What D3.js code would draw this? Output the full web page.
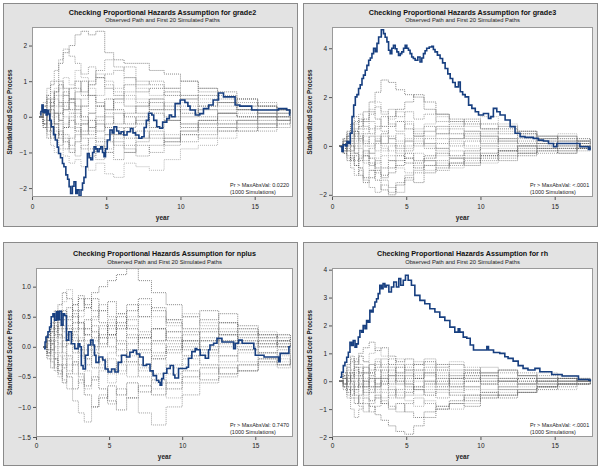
<!DOCTYPE html>
<html><head><meta charset="utf-8">
<script src="https://cdn.jsdelivr.net/npm/d3@7"></script>
<style>body{margin:0;background:#fff}svg{display:block}text{font-family:"Liberation Sans",Arial,sans-serif}</style>
</head><body><div id="c"></div>
<script>
// shared event-time grid of the simulated paths
const simTimes = [0.5,0.75,1.0,1.25,1.5,1.8,2.1,2.5,2.9,3.3,3.8,4.3,4.9,5.5,6.2,7.0,7.9,8.9,10.0,11.2,12.5,13.8,15.2,16.5,17.4];
const variables = ["grade2","grade3","nplus","rh"];
const pValues = ["0.0220","<.0001","0.7470","<.0001"];
const xTicks = [0,5,10,15];
const yTicksGrade2 = [-2,-1,0,1,2];
const yTicksGrade3 = [-2,0,2,4];
const yTicksNplus = [-1.5,-1.0,-0.5,0.0,0.5,1.0];
const yTicksRh = [-2,-1,0,1,2,3,4];

const obsGrade2 = [[0.55,0.05],[0.6,0.15],[0.67,0.33],[0.75,0.12],[0.85,0.2],[0.95,0.05],[1.05,0.18],[1.12,0.08],[1.2,-0.1],[1.3,-0.28],[1.45,-0.5],[1.57,-0.65],[1.7,-0.85],[1.79,-1.03],[1.92,-1.15],[2.05,-1.31],[2.15,-1.4],[2.28,-1.63],[2.4,-1.75],[2.5,-1.96],[2.6,-2.15],[2.72,-1.95],[2.83,-1.82],[2.95,-2.15],[3.05,-2.05],[3.17,-2.22],[3.3,-2.05],[3.4,-1.86],[3.5,-1.7],[3.62,-1.4],[3.73,-1.03],[3.85,-1.15],[3.96,-1.2],[4.08,-1.0],[4.18,-0.84],[4.3,-0.9],[4.4,-0.98],[4.52,-0.9],[4.63,-0.84],[4.75,-1.0],[4.85,-1.12],[4.95,-0.9],[5.07,-0.65],[5.25,-0.37],[5.4,-0.45],[5.52,-0.28],[5.7,-0.4],[5.85,-0.47],[6.0,-0.42],[6.18,-0.51],[6.4,-0.42],[6.63,-0.33],[6.8,-0.45],[6.97,-0.51],[7.2,-0.6],[7.4,-0.56],[7.55,-0.3],[7.7,-0.1],[7.85,0.1],[8.07,0.05],[8.2,-0.1],[8.4,-0.28],[8.6,-0.32],[8.8,-0.15],[9.08,-0.05],[9.25,0.05],[9.4,0.0],[9.64,0.37],[9.98,0.47],[10.3,0.4],[10.5,0.3],[10.65,0.19],[11.0,0.05],[11.3,0.09],[11.55,0.23],[11.9,0.33],[12.2,0.47],[12.56,0.67],[12.9,0.56],[13.45,0.56],[13.68,0.33],[14.0,0.3],[14.6,0.3],[14.8,0.19],[15.2,0.19],[16.6,0.23],[17.16,0.19],[17.35,0.05],[17.4,0.05]];
const obsGrade3 = [[0.56,-0.03],[0.67,-0.23],[0.75,0.05],[0.9,0.0],[1.01,0.18],[1.12,0.1],[1.23,0.52],[1.35,1.2],[1.46,1.67],[1.57,2.01],[1.68,2.1],[1.79,2.35],[1.9,2.5],[2.02,2.76],[2.12,2.9],[2.24,3.1],[2.35,3.3],[2.47,3.51],[2.58,3.6],[2.69,3.78],[2.8,4.0],[2.92,3.86],[3.03,4.2],[3.14,4.46],[3.32,4.76],[3.47,4.6],[3.58,4.45],[3.7,4.26],[3.81,3.92],[3.92,3.78],[4.03,4.0],[4.14,4.12],[4.26,3.98],[4.37,3.85],[4.48,3.71],[4.6,3.78],[4.7,3.85],[4.82,4.0],[4.93,4.12],[5.04,4.0],[5.15,3.92],[5.26,3.78],[5.37,3.64],[5.48,3.58],[5.6,3.51],[5.78,3.64],[5.93,3.44],[6.05,3.6],[6.16,3.78],[6.27,3.9],[6.38,4.0],[6.55,4.05],[6.72,4.08],[6.83,3.95],[6.94,3.85],[7.1,3.72],[7.28,3.58],[7.45,3.4],[7.62,3.17],[7.8,2.95],[7.96,2.76],[8.13,2.6],[8.3,2.42],[8.52,2.62],[8.64,2.22],[8.8,2.1],[8.97,2.01],[9.2,1.67],[9.42,1.54],[9.65,1.4],[9.87,1.27],[10.2,1.33],[10.54,1.13],[10.7,1.2],[10.87,1.54],[11.1,1.4],[11.32,1.27],[11.66,1.06],[12.0,0.79],[12.33,0.52],[12.67,0.38],[13.0,0.35],[13.56,0.31],[13.9,0.24],[14.24,0.2],[14.58,0.1],[14.92,-0.03],[15.14,0.1],[16.37,0.1],[16.7,-0.03],[17.27,-0.14],[17.38,-0.05],[17.4,-0.05]];
const obsNplus = [[0.55,-0.03],[0.62,0.08],[0.68,0.16],[0.82,0.25],[0.93,0.33],[1.04,0.5],[1.16,0.55],[1.27,0.44],[1.39,0.58],[1.5,0.45],[1.6,0.59],[1.73,0.36],[1.85,0.55],[1.96,0.52],[2.08,0.11],[2.24,0.25],[2.42,0.05],[2.65,-0.03],[2.88,0.05],[3.0,0.0],[3.1,-0.31],[3.22,-0.37],[3.38,-0.14],[3.56,0.03],[3.74,0.11],[3.9,0.03],[4.0,-0.14],[4.1,-0.26],[4.3,-0.17],[4.57,-0.22],[4.73,-0.37],[4.93,-0.42],[5.17,-0.37],[5.4,-0.42],[5.62,-0.26],[5.85,-0.14],[6.19,-0.17],[6.42,-0.09],[6.65,-0.06],[6.88,-0.12],[7.1,-0.17],[7.33,-0.31],[7.56,-0.29],[7.8,-0.4],[8.01,-0.48],[8.24,-0.56],[8.4,-0.59],[8.49,-0.64],[8.6,-0.53],[8.72,-0.44],[8.95,-0.36],[9.18,-0.31],[9.4,-0.47],[9.5,-0.52],[9.75,-0.36],[10.3,-0.34],[10.43,-0.19],[10.66,-0.08],[10.89,-0.03],[11.0,-0.05],[11.23,-0.14],[11.58,-0.19],[11.8,-0.05],[11.9,0.03],[12.15,0.06],[12.38,0.14],[12.72,0.08],[13.52,-0.03],[13.64,0.06],[13.86,0.11],[14.1,0.06],[14.9,-0.03],[15.0,-0.14],[15.6,-0.17],[16.6,-0.25],[16.7,-0.11],[17.3,0.0],[17.4,0.0]];
const obsRh = [[0.54,0.14],[0.65,0.32],[0.76,0.56],[0.87,0.68],[0.99,0.86],[1.1,1.04],[1.21,1.4],[1.32,1.28],[1.43,1.46],[1.55,1.22],[1.66,1.34],[1.77,1.58],[1.88,1.82],[2.0,1.76],[2.1,2.0],[2.22,1.88],[2.33,2.18],[2.44,2.12],[2.55,2.54],[2.66,2.48],[2.77,2.66],[2.89,2.84],[3.0,2.96],[3.11,3.14],[3.22,3.44],[3.33,3.32],[3.44,3.5],[3.56,3.38],[3.67,3.44],[3.83,3.2],[4.0,3.38],[4.16,3.56],[4.34,3.38],[4.5,3.68],[4.63,3.44],[4.8,3.62],[4.95,3.8],[5.13,3.62],[5.35,3.44],[5.58,3.08],[5.92,2.9],[6.25,2.78],[6.59,2.6],[6.93,2.48],[7.26,2.3],[7.6,2.18],[7.94,1.94],[8.27,1.76],[8.5,1.88],[8.61,1.76],[8.84,1.58],[9.08,1.54],[9.31,1.3],[9.53,1.12],[10.43,1.24],[10.54,1.12],[10.88,1.03],[11.3,1.0],[11.64,0.88],[11.86,0.82],[12.2,0.72],[12.54,0.56],[12.87,0.46],[13.2,0.4],[13.67,0.46],[14.0,0.34],[14.8,0.24],[15.5,0.19],[16.6,0.06],[17.3,0.04],[17.4,0.0]];

const simGrade2 = [
[0,0.3,0.6,0.9,1.0,1.5,1.8,2.0,2.3,2.4,2.3,2.4,1.8,1.6,1.5,1.5,1.3,1.2,1.0,0.8,0.7,0.5,0.3,0.2,0.1],
[0.1,0.4,0.8,1.0,1.3,1.6,1.9,1.7,1.5,1.2,1.4,1.1,1.2,1.3,1.4,1.0,0.9,0.8,1.0,0.7,0.6,0.4,0.3,0.2,0.2],
[0,-0.2,-0.5,-0.8,-1.0,-0.9,-1.1,-1.3,-1.2,-1.4,-1.5,-1.3,-1.6,-1.7,-1.3,-1.4,-1.5,-1.2,-0.9,-0.8,-0.6,-0.4,-0.3,-0.2,-0.1],
[0,0.2,0.5,0.3,0.7,0.9,0.6,0.8,1.0,0.7,0.9,1.1,0.8,0.6,0.9,0.7,0.8,0.6,0.5,0.6,0.4,0.5,0.3,0.2,0.1],
[0,-0.1,0.2,-0.3,-0.5,-0.2,-0.6,-0.8,-0.5,-0.9,-1.1,-0.8,-1.0,-1.2,-1.0,-0.8,-1.0,-0.7,-0.5,-0.6,-0.4,-0.3,-0.4,-0.2,-0.1],
[0,0.3,0.1,0.5,0.3,0.8,1.1,0.9,1.3,1.1,0.9,1.2,1.0,0.8,1.1,0.8,0.6,0.7,0.5,0.3,0.4,0.2,0.3,0.1,0.2],
[0,-0.3,-0.1,0.2,-0.2,0.1,0.4,0.2,0.5,0.3,0.6,0.4,0.2,0.5,0.3,0.1,0.4,0.2,0.0,0.2,0.1,0.0,0.1,0.0,0.0],
[0,0.1,-0.3,-0.6,-0.4,-0.8,-0.5,-0.9,-1.1,-0.8,-0.6,-0.9,-0.7,-0.5,-0.8,-0.6,-0.4,-0.6,-0.4,-0.2,-0.3,-0.1,-0.2,-0.1,0.0],
[0,0.2,0.4,0.7,0.5,0.3,0.6,0.4,0.2,0.5,0.8,0.6,0.9,0.7,0.5,0.3,0.5,0.7,0.6,0.4,0.2,0.3,0.1,0.2,0.1],
[0,-0.2,0.1,0.4,0.7,1.0,0.8,0.5,0.7,1.0,0.6,0.3,0.5,0.2,0.0,-0.2,0.1,-0.1,0.2,0.0,-0.2,-0.1,0.0,-0.1,0.0],
[0,0.1,-0.2,0.1,-0.3,-0.6,-0.9,-0.6,-0.3,-0.6,-0.9,-1.2,-1.0,-0.7,-0.9,-1.1,-0.8,-0.6,-0.7,-0.5,-0.3,-0.4,-0.2,-0.3,-0.1],
[0,0.2,0.5,0.2,0.0,0.3,0.0,-0.3,0.0,0.3,0.1,-0.2,0.1,0.4,0.6,0.4,0.2,0.4,0.3,0.5,0.3,0.2,0.0,0.1,0.0],
[0,-0.3,-0.6,-0.3,-0.6,-0.4,-0.7,-1.0,-0.7,-0.4,-0.1,-0.4,-0.2,0.1,-0.2,0.0,-0.3,-0.1,-0.3,-0.1,0.1,0.0,-0.1,0.0,0.0],
[0,0.2,0.0,0.3,0.6,0.4,0.2,0.5,0.8,0.6,1.0,1.3,1.6,1.4,1.1,0.9,1.0,0.8,0.6,0.8,0.5,0.3,0.4,0.2,0.1],
[0,0.1,0.3,0.0,-0.2,0.1,-0.2,0.1,-0.2,-0.5,-0.3,-0.6,-0.9,-0.6,-0.4,-0.6,-0.3,-0.5,-0.2,-0.4,-0.2,-0.1,-0.2,0.0,-0.1],
[0,-0.2,-0.4,-0.2,0.1,-0.1,0.2,0.5,0.3,0.0,-0.3,0.0,-0.3,-0.5,-0.3,-0.1,0.2,0.0,-0.2,-0.1,0.1,0.2,0.0,0.1,0.0],
[0,0.3,0.6,0.4,0.1,-0.1,-0.3,0.0,0.2,-0.1,-0.4,-0.7,-0.5,-0.8,-1.0,-0.7,-0.5,-0.7,-0.4,-0.2,-0.1,-0.2,0.0,-0.1,0.0],
[0,-0.1,0.2,0.5,0.8,0.6,0.3,0.1,-0.2,-0.5,-0.3,-0.1,0.2,0.5,0.7,0.5,0.3,0.2,0.4,0.2,0.0,0.1,0.2,0.0,0.1],
[0,0.2,-0.1,-0.4,-0.2,-0.5,-0.3,-0.1,-0.4,-0.2,0.1,0.3,0.0,-0.2,0.1,0.3,0.5,0.3,0.1,0.3,0.4,0.2,0.1,0.2,0.1],
[0,-0.2,0.0,0.3,0.1,0.4,0.7,0.4,0.1,-0.2,-0.5,-0.2,-0.5,-0.3,-0.6,-0.4,-0.6,-0.8,-0.5,-0.3,-0.4,-0.2,-0.3,-0.1,-0.1]];
const simGrade3 = [
[0,0.3,0.5,0.9,1.2,1.0,1.4,1.8,2.2,2.7,2.6,2.3,2.1,2.0,1.5,1.3,1.0,1.1,0.9,0.7,0.5,0.4,0.3,0.2,0.1],
[0,-0.2,-0.5,-0.9,-1.2,-1.0,-1.4,-1.7,-1.9,-1.6,-1.9,-1.5,-1.2,-1.0,-0.8,-1.0,-0.7,-0.5,-0.6,-0.4,-0.2,-0.3,-0.1,-0.2,0.0],
[0,0.2,0.6,0.4,0.9,1.3,1.0,1.5,1.8,1.4,1.1,1.4,1.0,0.7,0.9,1.2,1.0,0.8,1.2,0.9,0.6,0.4,0.5,0.3,0.2],
[0,-0.3,-0.1,-0.6,-0.4,-0.9,-1.3,-1.0,-1.4,-1.8,-2.0,-1.6,-1.3,-1.5,-1.1,-0.9,-0.7,-0.8,-0.5,-0.6,-0.4,-0.2,-0.3,-0.1,-0.1],
[0,0.1,0.4,0.2,0.6,0.3,0.7,1.0,0.7,1.2,0.9,0.6,0.9,0.5,0.8,0.5,0.7,0.4,0.6,0.3,0.5,0.3,0.4,0.2,0.3],
[0,-0.1,0.2,0.5,0.3,0.0,-0.3,-0.1,0.2,-0.1,-0.4,-0.2,-0.5,-0.3,-0.6,-0.4,-0.2,-0.4,-0.1,-0.3,-0.1,0.0,-0.1,0.0,-0.1],
[0,0.2,-0.2,-0.5,-0.8,-0.5,-0.2,-0.5,-0.9,-1.2,-0.9,-0.6,-0.3,-0.6,-0.4,-0.1,-0.4,-0.2,0.0,-0.2,0.0,0.1,-0.1,0.0,0.0],
[0,0.3,0.6,0.9,0.7,1.1,0.8,0.5,0.8,0.6,0.3,0.5,0.2,0.4,0.1,0.3,0.0,0.2,0.4,0.2,0.0,0.1,0.2,0.0,0.1],
[0,-0.2,0.1,0.3,0.0,-0.4,-0.7,-1.0,-0.7,-0.4,-0.6,-0.9,-1.1,-0.8,-1.0,-0.7,-0.9,-0.6,-0.7,-0.4,-0.3,-0.1,-0.2,0.0,-0.1],
[0,0.1,0.4,0.1,0.5,0.8,1.1,1.4,1.1,0.8,1.2,1.5,1.8,2.1,1.8,1.3,1.1,0.9,0.7,0.8,0.6,0.3,0.4,0.2,0.2],
[0,-0.1,-0.4,-0.2,0.1,0.3,0.0,-0.3,0.1,0.4,0.1,-0.1,0.2,0.0,0.3,0.5,0.3,0.6,0.4,0.2,0.3,0.1,0.2,0.1,0.0],
[0,0.2,0.0,-0.3,-0.6,-0.9,-0.6,-0.3,-0.5,-0.2,0.0,-0.3,-0.1,0.2,0.0,-0.2,0.1,-0.1,-0.3,-0.1,-0.2,0.0,0.1,-0.1,0.0],
[0,-0.3,-0.6,-0.4,-0.8,-1.2,-1.5,-1.3,-1.0,-1.3,-1.1,-0.8,-0.5,-0.7,-0.5,-0.3,-0.5,-0.3,-0.4,-0.2,-0.3,-0.1,-0.2,-0.1,0.0],
[0,0.1,0.3,0.6,1.0,0.7,1.0,1.3,1.6,1.3,1.5,1.2,1.4,1.1,1.3,1.0,0.8,1.0,0.7,0.5,0.6,0.4,0.2,0.3,0.1],
[0,0.2,0.5,0.2,-0.1,0.1,0.4,0.1,-0.2,0.1,0.4,0.2,0.0,0.3,0.1,-0.1,0.2,0.0,0.2,0.0,-0.1,0.0,0.1,0.0,0.0],
[0,-0.2,0.0,0.3,0.6,0.4,0.1,0.4,0.2,0.5,0.8,1.0,0.7,0.4,0.6,0.8,0.5,0.3,0.1,0.3,0.1,0.2,0.0,0.1,0.1],
[0,0.1,-0.2,0.0,-0.3,-0.1,-0.4,-0.7,-1.1,-1.4,-1.7,-1.9,-1.4,-1.1,-0.8,-0.6,-0.8,-0.5,-0.3,-0.5,-0.3,-0.2,-0.3,-0.1,-0.1],
[0,0.3,0.1,-0.2,0.2,0.5,0.2,0.0,0.3,0.0,-0.2,0.1,0.3,0.6,0.4,0.7,0.9,0.6,0.5,0.6,0.4,0.2,0.3,0.1,0.0],
[0,-0.1,0.2,0.0,-0.3,-0.6,-0.4,-0.8,-0.6,-0.9,-0.6,-0.4,-0.7,-0.9,-0.6,-0.8,-0.5,-0.7,-0.4,-0.2,0.0,-0.1,0.0,-0.1,0.0],
[0,0.2,0.4,0.7,0.4,0.2,0.5,0.7,0.4,0.1,0.3,0.0,-0.2,0.1,-0.1,0.1,0.3,0.5,0.3,0.1,0.2,0.3,0.1,0.2,0.1]];
const simNplus = [
[0,0.15,0.3,0.5,0.7,0.9,0.8,0.6,0.8,0.7,0.9,1.0,1.1,1.2,1.3,1.1,0.9,0.7,0.5,0.6,0.4,0.3,0.2,0.1,0.1],
[0,-0.1,-0.25,-0.4,-0.3,-0.55,-0.7,-0.9,-1.1,-1.25,-1.0,-0.8,-0.95,-0.7,-0.85,-1.1,-1.3,-1.0,-0.8,-0.6,-0.5,-0.4,-0.3,-0.35,-0.2],
[0,0.2,0.4,0.3,0.55,0.75,0.95,0.7,0.5,0.65,0.45,0.6,0.4,0.55,0.35,0.5,0.3,0.45,0.55,0.4,0.3,0.2,0.25,0.1,0.1],
[0,-0.15,0.05,-0.2,-0.45,-0.3,-0.5,-0.7,-0.55,-0.8,-1.0,-0.85,-0.65,-0.8,-0.6,-0.75,-0.55,-0.7,-0.5,-0.35,-0.45,-0.3,-0.2,-0.3,-0.15],
[0,0.1,0.25,0.45,0.3,0.15,0.35,0.55,0.4,0.2,0.35,0.15,0.3,0.1,-0.05,0.15,0.3,0.15,0.0,0.15,0.05,0.1,0.0,0.05,0.0],
[0,-0.05,-0.2,0.0,0.2,0.05,-0.15,-0.3,-0.15,0.05,-0.1,-0.3,-0.45,-0.3,-0.5,-0.35,-0.2,-0.35,-0.2,-0.3,-0.15,-0.25,-0.1,-0.15,-0.05],
[0,0.2,0.05,0.25,0.45,0.6,0.45,0.7,0.85,0.65,0.8,0.6,0.75,0.55,0.7,0.5,0.65,0.45,0.3,0.45,0.55,0.35,0.2,0.15,0.1],
[0,-0.1,0.1,-0.1,-0.3,-0.15,0.05,0.2,0.0,-0.2,-0.05,0.15,0.0,-0.15,0.05,0.2,0.05,-0.1,0.05,-0.1,0.0,-0.05,0.05,0.0,0.0],
[0,0.1,-0.1,-0.3,-0.15,-0.35,-0.2,0.0,0.15,-0.05,0.1,0.3,0.45,0.3,0.5,0.7,0.5,0.35,0.5,0.35,0.2,0.3,0.15,0.2,0.1],
[0,-0.2,-0.35,-0.2,-0.4,-0.6,-0.45,-0.25,-0.45,-0.65,-0.5,-0.7,-0.9,-1.05,-0.85,-0.65,-0.8,-0.6,-0.4,-0.55,-0.35,-0.4,-0.25,-0.3,-0.2],
[0,0.15,0.35,0.2,0.4,0.25,0.05,-0.1,0.1,0.3,0.15,0.35,0.2,0.05,0.2,0.05,-0.1,0.05,0.2,0.3,0.2,0.1,0.0,0.1,0.05],
[0,-0.1,0.05,0.2,0.05,-0.1,-0.3,-0.45,-0.6,-0.4,-0.55,-0.35,-0.2,-0.4,-0.25,-0.4,-0.6,-0.45,-0.3,-0.15,-0.25,-0.1,-0.2,-0.1,-0.05],
[0,0.1,0.25,0.4,0.6,0.45,0.65,0.5,0.3,0.45,0.25,0.05,0.2,0.4,0.6,0.8,0.6,0.4,0.25,0.1,0.2,0.05,0.1,0.0,0.05],
[0,-0.15,-0.05,0.1,-0.1,0.1,0.3,0.15,-0.05,-0.2,-0.35,-0.2,-0.4,-0.25,-0.1,-0.3,-0.15,0.0,-0.15,0.0,0.1,0.0,-0.1,-0.05,0.0],
[0,0.05,-0.15,-0.35,-0.5,-0.35,-0.15,-0.3,-0.5,-0.7,-0.55,-0.4,-0.6,-0.45,-0.3,-0.5,-0.7,-0.85,-0.6,-0.45,-0.3,-0.4,-0.25,-0.2,-0.1],
[0,0.2,0.4,0.6,0.45,0.3,0.1,0.25,0.4,0.2,0.0,0.2,0.35,0.5,0.3,0.15,0.3,0.1,-0.05,0.1,0.25,0.15,0.05,0.1,0.0],
[0,-0.1,0.1,0.3,0.15,0.35,0.5,0.3,0.1,0.3,0.5,0.7,0.5,0.3,0.45,0.25,0.1,0.25,0.1,-0.05,0.1,0.2,0.1,0.05,0.0],
[0,0.1,-0.05,-0.2,0.0,-0.2,-0.4,-0.25,-0.05,0.1,-0.1,-0.25,-0.1,0.05,-0.15,-0.3,-0.45,-0.3,-0.15,-0.3,-0.45,-0.3,-0.2,-0.25,-0.1],
[0,-0.05,0.15,0.35,0.2,0.0,0.2,0.4,0.6,0.8,0.6,0.4,0.2,0.35,0.15,-0.05,-0.2,-0.05,0.1,0.25,0.4,0.25,0.15,0.2,0.1],
[0,0.15,-0.05,0.15,0.35,0.5,0.3,0.1,-0.1,-0.3,-0.15,0.0,0.15,-0.05,-0.25,-0.1,0.1,0.25,0.1,-0.05,-0.15,-0.05,-0.1,0.0,0.0]];
const simRh = [
[0,0.3,0.6,0.9,0.7,1.0,1.2,1.4,1.1,1.2,0.9,0.7,0.8,0.6,0.7,0.5,0.6,0.4,0.3,0.4,0.2,0.1,0.0,0.1,0.0],
[0,-0.3,-0.6,-1.0,-1.3,-1.0,-0.8,-1.1,-0.9,-0.7,-0.9,-1.1,-0.8,-0.6,-0.8,-1.0,-0.8,-0.6,-0.5,-0.3,-0.4,-0.2,-0.1,-0.1,0.0],
[0,0.2,0.5,0.3,0.6,0.9,0.7,1.0,1.2,0.9,0.6,0.8,0.5,0.7,0.4,0.6,0.7,0.5,0.3,0.4,0.2,0.3,0.1,0.0,0.0],
[0,-0.2,-0.4,-0.2,-0.5,-0.8,-0.6,-0.9,-1.2,-1.4,-1.6,-1.8,-1.9,-1.6,-1.3,-1.0,-0.8,-0.9,-0.6,-0.5,-0.4,-0.3,-0.2,-0.1,0.0],
[0,0.1,-0.2,0.1,0.4,0.2,0.5,0.3,0.7,0.5,0.8,0.6,0.4,0.6,0.8,0.6,0.4,0.2,0.3,0.1,0.2,0.0,0.1,0.0,0.0],
[0,-0.1,0.2,-0.1,-0.4,-0.2,-0.5,-0.3,-0.6,-0.4,-0.2,-0.5,-0.7,-0.9,-0.7,-0.9,-1.0,-0.8,-0.6,-0.4,-0.3,-0.2,-0.3,-0.1,0.0],
[0,0.2,0.0,0.3,0.1,-0.2,0.0,0.3,0.1,-0.1,0.2,0.0,-0.2,0.1,0.3,0.1,-0.1,0.1,-0.1,0.0,-0.1,0.0,0.1,0.0,0.0],
[0,-0.2,0.1,0.4,0.8,0.6,0.3,0.6,0.4,0.1,0.4,0.2,0.0,-0.3,-0.1,0.2,0.0,-0.2,0.0,-0.2,-0.1,0.0,-0.1,0.0,0.0],
[0,0.1,0.3,0.0,-0.3,-0.6,-0.3,0.0,-0.3,-0.6,-0.4,-0.1,-0.3,-0.5,-0.3,-0.1,-0.3,-0.5,-0.3,-0.1,0.0,-0.1,0.0,0.0,0.0],
[0,-0.1,-0.3,-0.6,-0.8,-0.5,-0.2,0.1,-0.2,0.0,-0.3,-0.6,-0.4,-0.2,0.0,-0.2,0.1,0.3,0.1,0.0,0.1,-0.1,0.0,0.0,0.0],
[0,0.2,0.4,0.7,0.5,0.2,-0.1,0.2,0.5,0.8,0.6,0.3,0.1,0.3,0.5,0.3,0.1,0.3,0.5,0.3,0.2,0.1,0.2,0.1,0.0],
[0,-0.2,0.0,-0.3,-0.1,0.2,0.5,0.2,-0.1,-0.3,-0.6,-0.4,-0.1,0.1,-0.1,0.1,0.3,0.1,-0.1,0.1,0.0,0.1,0.0,0.1,0.0],
[0,0.1,-0.2,-0.5,-0.3,-0.1,-0.4,-0.7,-0.5,-0.8,-1.0,-0.8,-1.1,-1.3,-1.1,-0.9,-0.7,-0.5,-0.4,-0.5,-0.3,-0.2,-0.1,-0.1,0.0],
[0,0.2,0.5,0.8,0.6,0.9,0.7,0.4,0.6,0.3,0.5,0.3,0.6,0.4,0.2,0.4,0.2,0.0,0.2,0.4,0.3,0.2,0.1,0.0,0.0],
[0,-0.1,0.1,0.3,0.0,0.3,0.1,-0.2,-0.4,-0.1,0.1,-0.1,0.2,0.0,-0.2,-0.4,-0.2,-0.3,-0.1,-0.3,-0.2,-0.1,0.0,-0.1,0.0],
[0,0.1,-0.1,0.2,0.5,0.3,0.0,-0.2,0.1,0.4,0.2,0.5,0.3,0.1,0.3,0.0,-0.2,0.0,0.2,0.0,0.1,0.0,0.1,0.0,0.0],
[0,-0.2,-0.5,-0.3,-0.6,-0.9,-1.1,-0.8,-0.6,-0.8,-0.5,-0.3,-0.5,-0.2,-0.4,-0.6,-0.4,-0.2,-0.4,-0.2,-0.1,-0.2,-0.1,0.0,0.0],
[0,0.3,0.1,-0.1,0.2,0.0,0.3,0.6,0.8,0.6,0.3,0.0,0.2,0.4,0.6,0.4,0.2,0.4,0.2,0.0,-0.1,0.0,-0.1,0.0,0.0],
[0,-0.1,0.2,0.0,-0.2,0.1,-0.2,-0.4,-0.2,0.1,-0.1,0.1,-0.1,-0.3,-0.5,-0.3,-0.5,-0.7,-0.5,-0.6,-0.4,-0.2,-0.1,-0.1,0.0],
[0,0.1,0.3,0.1,0.3,0.5,0.3,0.1,-0.1,0.2,0.0,0.2,0.4,0.2,0.0,-0.1,0.1,0.2,0.0,0.1,0.0,0.1,0.0,0.0,0.0]];

const W = 600, H = 470;
const svg = d3.select("#c").append("svg").attr("width", W).attr("height", H);
svg.append("rect").attr("width", W).attr("height", H).attr("fill", "#fff");

const layouts = [
  {frame:[3,3,294,223], plot:{l:32,r:293,t:27,b:197}, titleY:15.3, subY:22.2, tickY:208.5, yearY:219.5, yDom:[-2.25,2.52], yTicks:yTicksGrade2, fmt:d3.format("d")},
  {frame:[303,3,294,223], plot:{l:332,r:593,t:27,b:197}, titleY:15.3, subY:22.2, tickY:208.5, yearY:219.5, yDom:[-2.09,4.87], yTicks:yTicksGrade3, fmt:d3.format("d")},
  {frame:[3,242,294,223], plot:{l:36,r:293,t:268,b:437}, titleY:255.8, subY:263.8, tickY:448.3, yearY:459, yDom:[-1.5,1.31], yTicks:yTicksNplus, fmt:d3.format(".1f")},
  {frame:[303,242,294,223], plot:{l:332,r:593,t:268,b:437}, titleY:255.8, subY:263.8, tickY:448.3, yearY:459, yDom:[-2,4.06], yTicks:yTicksRh, fmt:d3.format("d")}
];
const obsAll = [obsGrade2, obsGrade3, obsNplus, obsRh];
const simAll = [simGrade2, simGrade3, simNplus, simRh];
const simColors = ["#555", "#7a7a7a", "#999"];

layouts.forEach((L, i) => {
  const g = svg.append("g");
  const [fx, fy, fw, fh] = L.frame;
  g.append("rect").attr("x", fx+0.5).attr("y", fy+0.5).attr("width", fw).attr("height", fh)
    .attr("fill", "#e3e3e3").attr("stroke", "#8a8a8a").attr("stroke-width", 1);
  const P = L.plot;
  g.append("rect").attr("x", P.l).attr("y", P.t).attr("width", P.r-P.l).attr("height", P.b-P.t)
    .attr("fill", "#fff");
  const x = d3.scaleLinear().domain([0, 17.58]).range([P.l, P.r]);
  const y = d3.scaleLinear().domain(L.yDom).range([P.b, P.t]);
  const cid = "clip" + i;
  g.append("clipPath").attr("id", cid).append("rect")
    .attr("x", P.l).attr("y", P.t).attr("width", P.r-P.l).attr("height", P.b-P.t);
  const line = d3.line().x(d => x(d[0])).y(d => y(d[1])).curve(d3.curveStepAfter);
  const pg = g.append("g").attr("clip-path", `url(#${cid})`);
  simAll[i].forEach((vals, k) => {
    const pts = simTimes.map((t, j) => [t, vals[j]]);
    pg.append("path").attr("d", line(pts)).attr("fill", "none")
      .attr("stroke", simColors[k % 3])
      .attr("stroke-width", 0.7).attr("stroke-dasharray", "1,1");
  });
  pg.append("path").attr("d", line(obsAll[i])).attr("fill", "none")
    .attr("stroke", "#173f80").attr("stroke-width", 1.6).attr("stroke-linejoin", "miter");
  // plot border
  g.append("rect").attr("x", P.l+0.5).attr("y", P.t+0.5).attr("width", P.r-P.l-1).attr("height", P.b-P.t-1)
    .attr("fill", "none").attr("stroke", "#9a9a9a").attr("stroke-width", 1);
  // axes
  const xa = g.append("g").attr("transform", `translate(0,${P.b})`)
    .call(d3.axisBottom(x).tickValues(xTicks).tickSize(3).tickFormat(d3.format("d")));
  xa.select(".domain").remove();
  xa.selectAll("line").attr("stroke", "#555");
  xa.selectAll("text").attr("y", L.tickY - P.b).attr("dy", null).attr("font-size", 6.5).attr("fill", "#222").attr("font-family", "Liberation Sans, Arial, sans-serif");
  const ya = g.append("g").attr("transform", `translate(${P.l},0)`)
    .call(d3.axisLeft(y).tickValues(L.yTicks).tickSize(3).tickFormat(L.fmt));
  ya.select(".domain").remove();
  ya.selectAll("line").attr("stroke", "#555");
  ya.selectAll("text").attr("x", -5).attr("dy", "0.32em").attr("font-size", 6.5).attr("fill", "#222").attr("font-family", "Liberation Sans, Arial, sans-serif");
  const cx = (P.l + P.r) / 2;
  g.append("text").attr("x", cx).attr("y", L.titleY).attr("text-anchor", "middle")
    .attr("font-size", 7.2).attr("font-weight", "bold").attr("fill", "#111")
    .text("Checking Proportional Hazards Assumption for " + variables[i]);
  g.append("text").attr("x", cx).attr("y", L.subY).attr("text-anchor", "middle")
    .attr("font-size", 5.8).attr("fill", "#222")
    .text("Observed Path and First 20 Simulated Paths");
  g.append("text").attr("x", cx).attr("y", L.yearY).attr("text-anchor", "middle")
    .attr("font-size", 6.5).attr("font-weight", "bold").attr("fill", "#222").text("year");
  const ly = (P.t + P.b) / 2, lx = fx + 8.5;
  g.append("text").attr("transform", `translate(${lx},${ly}) rotate(-90)`).attr("text-anchor", "middle")
    .attr("font-size", 6.3).attr("font-weight", "bold").attr("fill", "#222").text("Standardized Score Process");
  g.append("text").attr("x", P.r - 63).attr("y", P.b - 10).attr("font-size", 5.5).attr("fill", "#222")
    .text("Pr > MaxAbsVal: " + pValues[i]);
  g.append("text").attr("x", P.r - 63).attr("y", P.b - 3).attr("font-size", 5.5).attr("fill", "#222")
    .text("(1000 Simulations)");
});
</script></body></html>
